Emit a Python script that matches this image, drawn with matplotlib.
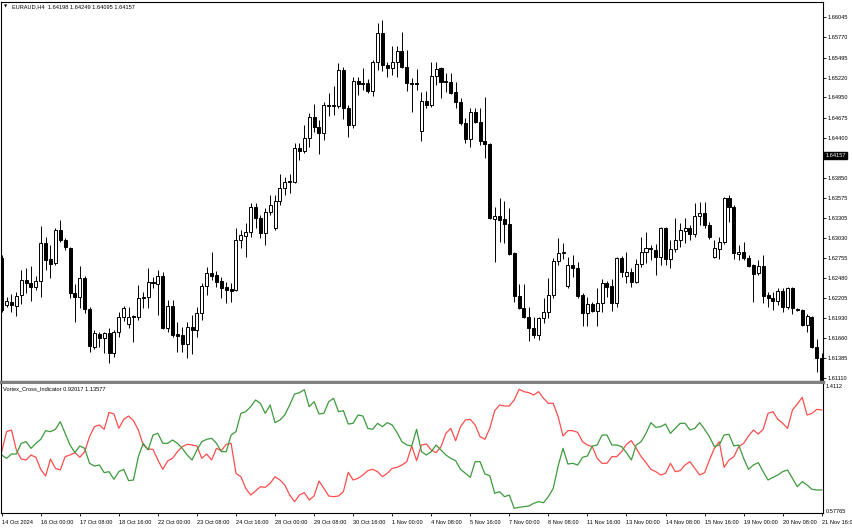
import matplotlib
matplotlib.use("Agg")
import matplotlib.pyplot as plt
import matplotlib.transforms as mtransforms
import numpy as np

plt.rcParams["font.family"] = ["Liberation Sans", "DejaVu Sans"]

# ---------------------------------------------------------------------------
# Datos (EURAUD H4, 169 velas)
# ---------------------------------------------------------------------------

OPEN = [
    1.62756, 1.62113, 1.62154, 1.62099, 1.62250, 1.62454, 1.62413, 1.62359, 1.62441, 1.62960,
    1.62742, 1.62687, 1.63138, 1.63001, 1.62892, 1.62277, 1.62222, 1.62481, 1.62058, 1.61538,
    1.61716, 1.61661, 1.61730, 1.61456, 1.61744, 1.61949, 1.61853, 1.61962, 1.61949, 1.62222,
    1.62222, 1.62427, 1.62400, 1.62509, 1.61799, 1.62099, 1.61716, 1.61703, 1.61579, 1.61812,
    1.61771, 1.62003, 1.62372, 1.62550, 1.62522, 1.62441, 1.62359, 1.62331, 1.62318, 1.63001,
    1.63056, 1.63111, 1.63452, 1.63302, 1.63097, 1.63384, 1.63165, 1.63534, 1.63712, 1.63808,
    1.63794, 1.64259, 1.64218, 1.64396, 1.64683, 1.64546, 1.64464, 1.64847, 1.64847, 1.64833,
    1.65325, 1.64806, 1.64573, 1.65175, 1.65147, 1.65147, 1.65038, 1.65435, 1.65831, 1.65394,
    1.65353, 1.65435, 1.65585, 1.65366, 1.65147, 1.65147, 1.64491, 1.64901, 1.64847, 1.65243,
    1.65353, 1.65175, 1.65161, 1.65024, 1.64888, 1.64601, 1.64382, 1.64751, 1.64614, 1.64355,
    1.64314, 1.63289, 1.63330, 1.63289, 1.63220, 1.62824, 1.62236, 1.62072, 1.61949, 1.61799,
    1.61703, 1.61935, 1.62017, 1.62250, 1.62714, 1.62824, 1.62372, 1.62660, 1.62618, 1.62250,
    1.62003, 1.62126, 1.62031, 1.62140, 1.62413, 1.62372, 1.62140, 1.62756, 1.62509, 1.62563,
    1.62427, 1.62673, 1.62838, 1.62892, 1.62865, 1.62769, 1.63165, 1.62742, 1.62878, 1.63001,
    1.63124, 1.63165, 1.63083, 1.63330, 1.63370, 1.63206, 1.62769, 1.62878, 1.62974, 1.63575,
    1.63452, 1.62810, 1.62838, 1.62756, 1.62660, 1.62550, 1.62646, 1.62250, 1.62209, 1.62167,
    1.62304, 1.62085, 1.62345, 1.62058, 1.62044, 1.61840, 1.61949, 1.61538, 1.61388,
]
HIGH = [
    1.62797, 1.62222, 1.62263, 1.62291, 1.62591, 1.62618, 1.62646, 1.62509, 1.63193, 1.63042,
    1.62933, 1.63165, 1.63275, 1.63028, 1.62905, 1.62400, 1.62646, 1.62509, 1.62085, 1.61771,
    1.61744, 1.61744, 1.61799, 1.61771, 1.62017, 1.62099, 1.62085, 1.61976, 1.62386, 1.62291,
    1.62618, 1.62495, 1.62591, 1.62563, 1.62181, 1.62181, 1.61881, 1.61812, 1.61881, 1.61976,
    1.62085, 1.62413, 1.62632, 1.62838, 1.62577, 1.62495, 1.62427, 1.62413, 1.63165, 1.63138,
    1.63234, 1.63507, 1.63507, 1.63343, 1.63439, 1.63616, 1.63616, 1.63903, 1.63862, 1.63903,
    1.64327, 1.64327, 1.64573, 1.64737, 1.64860, 1.64642, 1.64888, 1.65011, 1.65107, 1.65421,
    1.65366, 1.64847, 1.65229, 1.65229, 1.65353, 1.65202, 1.65462, 1.65968, 1.66009, 1.65435,
    1.65653, 1.65653, 1.65845, 1.65599, 1.65216, 1.65339, 1.65024, 1.65038, 1.65435, 1.65435,
    1.65366, 1.65284, 1.65284, 1.65161, 1.64942, 1.64669, 1.64806, 1.64806, 1.64806, 1.64956,
    1.64327, 1.63452, 1.63575, 1.63534, 1.63439, 1.62838, 1.62400, 1.62400, 1.62085, 1.61949,
    1.61949, 1.62209, 1.62481, 1.62756, 1.63028, 1.62960, 1.62769, 1.62797, 1.62701, 1.62277,
    1.62222, 1.62154, 1.62345, 1.62468, 1.62441, 1.62468, 1.62769, 1.62783, 1.62838, 1.62618,
    1.62742, 1.63042, 1.63111, 1.62933, 1.62947, 1.63179, 1.63179, 1.63001, 1.63302, 1.63234,
    1.63302, 1.63206, 1.63507, 1.63521, 1.63521, 1.63247, 1.63001, 1.63042, 1.63589, 1.63616,
    1.63480, 1.62933, 1.62974, 1.62797, 1.62673, 1.62728, 1.62797, 1.62291, 1.62291, 1.62345,
    1.62345, 1.62359, 1.62359, 1.62072, 1.62058, 1.61990, 1.61962, 1.61648, 1.61456,
]
LOW = [
    1.62017, 1.62085, 1.62017, 1.61962, 1.62126, 1.62277, 1.62167, 1.62318, 1.62222, 1.62591,
    1.62481, 1.62660, 1.62974, 1.62865, 1.62209, 1.61881, 1.62072, 1.62003, 1.61470, 1.61511,
    1.61538, 1.61456, 1.61320, 1.61402, 1.61675, 1.61894, 1.61799, 1.61607, 1.61908, 1.62072,
    1.62072, 1.62345, 1.61976, 1.61785, 1.61744, 1.61675, 1.61470, 1.61470, 1.61388, 1.61443,
    1.61675, 1.61908, 1.62250, 1.62454, 1.62359, 1.62209, 1.62140, 1.62154, 1.62304, 1.62892,
    1.62769, 1.63042, 1.63165, 1.63028, 1.62933, 1.63343, 1.63138, 1.63480, 1.63616, 1.63644,
    1.63780, 1.64095, 1.64191, 1.64273, 1.64478, 1.64177, 1.64368, 1.64696, 1.64710, 1.64806,
    1.64655, 1.64409, 1.64532, 1.64983, 1.65052, 1.65011, 1.64970, 1.65325, 1.65312, 1.65229,
    1.65257, 1.65229, 1.65353, 1.65038, 1.64751, 1.65052, 1.64354, 1.64806, 1.64819, 1.65120,
    1.64942, 1.65024, 1.64997, 1.64806, 1.64573, 1.64327, 1.64273, 1.64601, 1.64300, 1.64122,
    1.63289, 1.62701, 1.62974, 1.62960, 1.62797, 1.62154, 1.62058, 1.61935, 1.61620, 1.61661,
    1.61634, 1.61867, 1.61935, 1.62209, 1.62660, 1.62742, 1.62345, 1.62495, 1.62209, 1.61826,
    1.61826, 1.62017, 1.61826, 1.62017, 1.62222, 1.62031, 1.62085, 1.62495, 1.62413, 1.62359,
    1.62413, 1.62632, 1.62687, 1.62728, 1.62522, 1.62660, 1.62660, 1.62618, 1.62838, 1.62905,
    1.62960, 1.63001, 1.63042, 1.63206, 1.63165, 1.63015, 1.62756, 1.62742, 1.62947, 1.63247,
    1.62742, 1.62728, 1.62728, 1.62632, 1.62154, 1.62522, 1.62140, 1.62085, 1.62044, 1.62113,
    1.62017, 1.62058, 1.61990, 1.62031, 1.61826, 1.61744, 1.61525, 1.61197, 1.60924,
]
CLOSE = [
    1.62044, 1.62167, 1.62113, 1.62236, 1.62454, 1.62413, 1.62359, 1.62441, 1.62960, 1.62728,
    1.62673, 1.63138, 1.63001, 1.62905, 1.62277, 1.62222, 1.62481, 1.62058, 1.61552, 1.61730,
    1.61661, 1.61730, 1.61456, 1.61744, 1.61949, 1.62072, 1.61949, 1.61949, 1.62209, 1.62209,
    1.62427, 1.62413, 1.62509, 1.61799, 1.62099, 1.61703, 1.61689, 1.61579, 1.61812, 1.61771,
    1.62003, 1.62372, 1.62550, 1.62509, 1.62427, 1.62345, 1.62318, 1.62304, 1.63001, 1.63069,
    1.63111, 1.63452, 1.63302, 1.63097, 1.63384, 1.63480, 1.63534, 1.63712, 1.63794, 1.63794,
    1.64259, 1.64218, 1.64396, 1.64683, 1.64546, 1.64464, 1.64847, 1.64833, 1.64833, 1.65325,
    1.64806, 1.64573, 1.65175, 1.65134, 1.65134, 1.65038, 1.65435, 1.65831, 1.65394, 1.65353,
    1.65435, 1.65585, 1.65366, 1.65147, 1.65134, 1.65134, 1.64901, 1.64847, 1.65243, 1.65339,
    1.65161, 1.65161, 1.65011, 1.64888, 1.64601, 1.64382, 1.64751, 1.64614, 1.64355, 1.64314,
    1.63302, 1.63330, 1.63275, 1.63220, 1.62810, 1.62236, 1.62072, 1.61949, 1.61799, 1.61703,
    1.61935, 1.62017, 1.62250, 1.62714, 1.62824, 1.62838, 1.62660, 1.62618, 1.62236, 1.62003,
    1.62126, 1.62031, 1.62140, 1.62413, 1.62359, 1.62140, 1.62756, 1.62563, 1.62563, 1.62427,
    1.62673, 1.62838, 1.62892, 1.62878, 1.62769, 1.63165, 1.62742, 1.62878, 1.63001, 1.63138,
    1.63165, 1.63083, 1.63330, 1.63370, 1.63206, 1.63042, 1.62892, 1.62974, 1.63575, 1.63452,
    1.62824, 1.62838, 1.62756, 1.62646, 1.62536, 1.62646, 1.62236, 1.62209, 1.62167, 1.62304,
    1.62085, 1.62345, 1.62072, 1.62044, 1.61840, 1.61962, 1.61538, 1.61388, 1.60951,
]

# Vortex: VI+ (verde) y VI- (rojo)
VI_PLUS = [
    0.9512, 0.9279, 0.9582, 0.9582, 1.0330, 1.0446, 0.9979, 1.0330, 1.0610, 1.1217,
    1.1147, 1.1310, 1.1847, 1.1030, 1.0213, 0.9676, 1.0143, 0.9979, 0.8929, 0.8742,
    0.8812, 0.8275, 0.8345, 0.7808, 0.8345, 0.8508, 0.7714, 0.7761, 0.9396, 1.0330,
    0.9863, 1.0913, 1.1030, 1.0330, 1.0330, 1.0563, 1.0330, 0.9979, 0.9512, 0.9162,
    0.9863, 1.0446, 1.0610, 1.0680, 1.0330, 0.9746, 0.9746, 1.0913, 1.1147, 1.2431,
    1.2548, 1.2898, 1.3365, 1.3131, 1.2431, 1.3015, 1.1777, 1.1964, 1.2314, 1.3015,
    1.3785, 1.3879, 1.4085, 1.2898, 1.3248, 1.2384, 1.2431, 1.3248, 1.3482, 1.2548,
    1.2618, 1.1684, 1.1731, 1.2314, 1.2244, 1.1380, 1.1310, 1.1731, 1.1497, 1.1777,
    1.1614, 1.1077, 1.0446, 1.0213, 1.0143, 1.1310, 0.9746, 0.9512, 0.9746, 1.0213,
    0.9863, 0.9512, 0.9279, 0.9115, 0.8508, 0.8228, 0.7948, 0.9045, 0.9045, 0.8181,
    0.8064, 0.6827, 0.6944, 0.6593, 0.6710, 0.5776, 0.5846, 0.5893, 0.5940, 0.6126,
    0.6243, 0.6173, 0.6593, 0.7177, 0.8742, 0.9979, 0.8882, 0.8929, 0.8812, 0.9349,
    0.9442, 1.0143, 1.0213, 1.0913, 1.0913, 1.0213, 1.0213, 1.0096, 0.9676, 0.9162,
    1.0213, 1.0446, 1.1030, 1.1777, 1.1450, 1.1497, 1.1684, 1.1030, 1.1380, 1.1731,
    1.1731, 1.1264, 1.1380, 1.1777, 1.1310, 1.0797, 1.0096, 1.0213, 1.0913, 1.0960,
    1.0143, 1.0213, 0.9279, 0.8508, 0.8812, 0.8975, 0.8345, 0.7761, 0.7948, 0.8111,
    0.8345, 0.8461, 0.7878, 0.7294, 0.7644, 0.7411, 0.7107, 0.7061, 0.7061,
]
VI_MINUS = [
    0.9746, 1.1147, 1.1264, 0.9863, 0.9232, 0.9162, 0.9512, 0.9349, 0.8508, 0.8041,
    0.9232, 0.8578, 0.8461, 0.9396, 0.9512, 0.9676, 0.9349, 0.9746, 1.0797, 1.1497,
    1.1614, 1.1310, 1.2501, 1.2384, 1.1380, 1.2011, 1.2244, 1.1917, 1.1264, 1.0213,
    0.9933, 0.9909, 0.9162, 0.8508, 0.9092, 0.9279, 0.9746, 1.0096, 1.0260, 1.0213,
    1.0143, 0.9279, 0.9582, 0.9162, 0.9979, 0.9816, 1.0260, 1.0330, 0.8228, 0.7994,
    0.7177, 0.6710, 0.6990, 0.7294, 0.7247, 0.7528, 0.7994, 0.7761, 0.7411, 0.6710,
    0.6243, 0.6710, 0.6874, 0.6360, 0.6640, 0.7691, 0.7177, 0.6640, 0.6593, 0.6640,
    0.6944, 0.8298, 0.7761, 0.7878, 0.8111, 0.8415, 0.8508, 0.8345, 0.7994, 0.8228,
    0.8578, 0.8648, 0.8812, 0.9045, 1.0143, 0.9115, 1.0213, 1.0283, 0.9863, 0.9676,
    1.0096, 1.1030, 1.1380, 1.0516, 1.1497, 1.1964, 1.2011, 1.1614, 1.0797, 1.0610,
    1.1380, 1.2618, 1.3015, 1.2945, 1.2945, 1.3365, 1.4112, 1.3949, 1.3879, 1.3715,
    1.3949, 1.3482, 1.3131, 1.3131, 1.2197, 1.0843, 1.1217, 1.1217, 1.1100, 1.0446,
    1.0213, 1.0096, 0.9279, 0.8929, 0.8929, 0.9396, 0.9396, 0.9746, 1.0260, 1.0516,
    0.9979, 0.9396, 0.8975, 0.8508, 0.8345, 0.8111, 0.8228, 0.8929, 0.8345, 0.8415,
    0.8812, 0.9045, 0.8578, 0.8111, 0.8275, 0.9162, 0.9979, 1.0446, 0.8648, 0.9162,
    0.9396, 1.0096, 1.0330, 1.0843, 1.1264, 1.0983, 1.1310, 1.2431, 1.2548, 1.2011,
    1.1731, 1.1380, 1.2665, 1.3085, 1.3552, 1.2314, 1.2431, 1.2711, 1.2665,
]

TIME_LABELS = [
    "14 Oct 2024", "16 Oct 00:00", "17 Oct 08:00", "18 Oct 16:00", "22 Oct 00:00",
    "23 Oct 08:00", "24 Oct 16:00", "28 Oct 00:00", "29 Oct 08:00", "30 Oct 16:00",
    "1 Nov 00:00", "4 Nov 08:00", "5 Nov 16:00", "7 Nov 00:00", "8 Nov 08:00",
    "11 Nov 16:00", "13 Nov 00:00", "14 Nov 08:00", "15 Nov 16:00", "19 Nov 00:00",
    "20 Nov 08:00", "21 Nov 16:00",
]
LABEL_STEP = 8  # una etiqueta cada 8 velas

PRICE_TICKS = [
    1.66045, 1.65770, 1.65495, 1.65220, 1.64950, 1.64675, 1.64400, 1.63850,
    1.63575, 1.63305, 1.63030, 1.62755, 1.62480, 1.62205, 1.61930, 1.61660,
    1.61385, 1.61110,
]
LAST_PRICE = 1.64157
TITLE = "EURAUD,H4  1.64198 1.64249 1.64095 1.64157"
IND_TITLE = "Vortex_Cross_Indicator 0.92017 1.13577"
IND_MAX, IND_MIN = "1.4112", "0.57765"

FS = 4.1

# ---------------------------------------------------------------------------
# Figura
# ---------------------------------------------------------------------------

W, H = 852, 528
fig = plt.figure(figsize=(W / 100, H / 100), dpi=100, facecolor="white")


def box(x0, y0, x1, y1):
    return [x0 / W, 1 - y1 / H, (x1 - x0) / W, (y1 - y0) / H]


ax = fig.add_axes(box(1, 2, 823, 382))
ax2 = fig.add_axes(box(1, 384, 823, 513), sharex=ax)

o = np.array(OPEN)
h = np.array(HIGH)
l = np.array(LOW)
c = np.array(CLOSE)
x = np.arange(len(o))
bull = c >= o

ax.vlines(x, l, h, color="black", linewidth=0.7, zorder=1)
ax.bar(x, np.abs(c - o), bottom=np.minimum(o, c), width=0.62,
       color=np.where(bull, "white", "black"), edgecolor="black",
       linewidth=0.7, zorder=2)

ax.set_xlim(-0.14, 168.26)
ax.set_ylim(1.61060, 1.66255)

ax.yaxis.tick_right()
ax.set_yticks(PRICE_TICKS)
ax.set_yticklabels([f"{p:.5f}" for p in PRICE_TICKS])
ax.tick_params(axis="y", length=2, width=0.6, pad=1.4, labelsize=FS, colors="black")
ax.tick_params(axis="x", bottom=False, labelbottom=False)

for name, sp in ax.spines.items():
    sp.set_color("black")
    sp.set_linewidth(0.8)
ax.spines["bottom"].set_color("#808080")
ax.spines["bottom"].set_linewidth(2.5)

# etiqueta del último precio
tr = mtransforms.blended_transform_factory(ax.transAxes, ax.transData)
ax.text(1.003, LAST_PRICE, f"{LAST_PRICE:.5f}", transform=tr, color="white",
        fontsize=FS, va="center", ha="left",
        bbox=dict(facecolor="black", edgecolor="black", pad=1.0))

fig.text(4 / W, 1 - 6.3 / H, "\u25bc", fontsize=3.0, va="center", ha="left",
         family=["DejaVu Sans"])
fig.text(11.5 / W, 1 - 6.3 / H, TITLE, fontsize=FS, va="center", ha="left")

# Indicador
ax2.plot(x, VI_MINUS, color="#ff4d4d", linewidth=0.9)
ax2.plot(x, VI_PLUS, color="#3d9a3d", linewidth=0.9)
ax2.set_ylim(0.5449, 1.4486)
ax2.set_yticks([])
for name, sp in ax2.spines.items():
    sp.set_color("black")
    sp.set_linewidth(0.8)
ax2.spines["top"].set_visible(False)

ticks = np.arange(len(TIME_LABELS)) * LABEL_STEP
ax2.set_xticks(ticks)
ax2.set_xticklabels(TIME_LABELS, ha="left")
ax2.tick_params(axis="x", length=2.5, width=0.6, pad=2.4, labelsize=FS)

fig.text(3.3 / W, 1 - 388.5 / H, IND_TITLE, fontsize=FS, va="center", ha="left")
fig.text(826 / W, 1 - 386.5 / H, IND_MAX, fontsize=FS, va="center", ha="left")
fig.text(826 / W, 1 - 511.5 / H, IND_MIN, fontsize=FS, va="center", ha="left")

fig.savefig("out.png", dpi=100, facecolor="white")
